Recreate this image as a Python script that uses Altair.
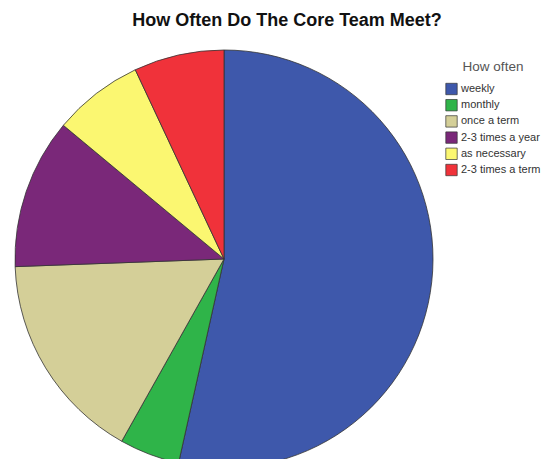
import altair as alt
import pandas as pd

categories = ["weekly", "monthly", "once a term", "2-3 times a year", "as necessary", "2-3 times a term"]
counts = [23, 2, 7, 5, 3, 3]
colors = ["#3e58ab", "#2fb449", "#d4cf98", "#7a2879", "#fbf771", "#f0323a"]
title_text = "How Often Do The Core Team Meet?"

df = pd.DataFrame({"cat": categories, "n": counts, "ord": list(range(len(categories)))})

W, H = 536, 451

pie = alt.Chart(df).mark_arc(radius=209, stroke="#333333", strokeWidth=0.8).encode(
    theta=alt.Theta("n:Q", stack=True),
    order=alt.Order("ord:Q"),
    color=alt.Color(
        "cat:N",
        sort=categories,
        scale=alt.Scale(domain=categories, range=colors),
        legend=alt.Legend(
            title="How often",
            orient="none",
            legendX=437,
            legendY=52,
            symbolType="square",
            symbolSize=130,
            symbolStrokeColor="#333333",
            symbolStrokeWidth=0.7,
            labelFont="Liberation Sans",
            labelFontSize=11,
            labelColor="#333333",
            titleFont="Liberation Sans",
            titleFontSize=13.5,
            titleFontWeight="normal",
            titleColor="#555555",
            titleAnchor="middle",
            rowPadding=1.2,
            labelOffset=3,
            titlePadding=9,
        ),
    ),
    x=alt.value(216),
    y=alt.value(251),
)

title = alt.Chart(pd.DataFrame({"t": [title_text]})).mark_text(
    font="Liberation Sans", fontSize=18, fontWeight="bold", color="#111111",
    align="center", baseline="middle"
).encode(text="t:N", x=alt.value(279), y=alt.value(13))

chart = alt.layer(pie, title).properties(
    width=W, height=H, padding=0, autosize=alt.AutoSizeParams(type="none"),
    view=alt.ViewBackground(stroke="transparent", strokeWidth=0),
).configure_view(strokeWidth=0, stroke="transparent").configure(background="white")

chart.save("out.html", embed_options={"renderer": "svg", "actions": False})
